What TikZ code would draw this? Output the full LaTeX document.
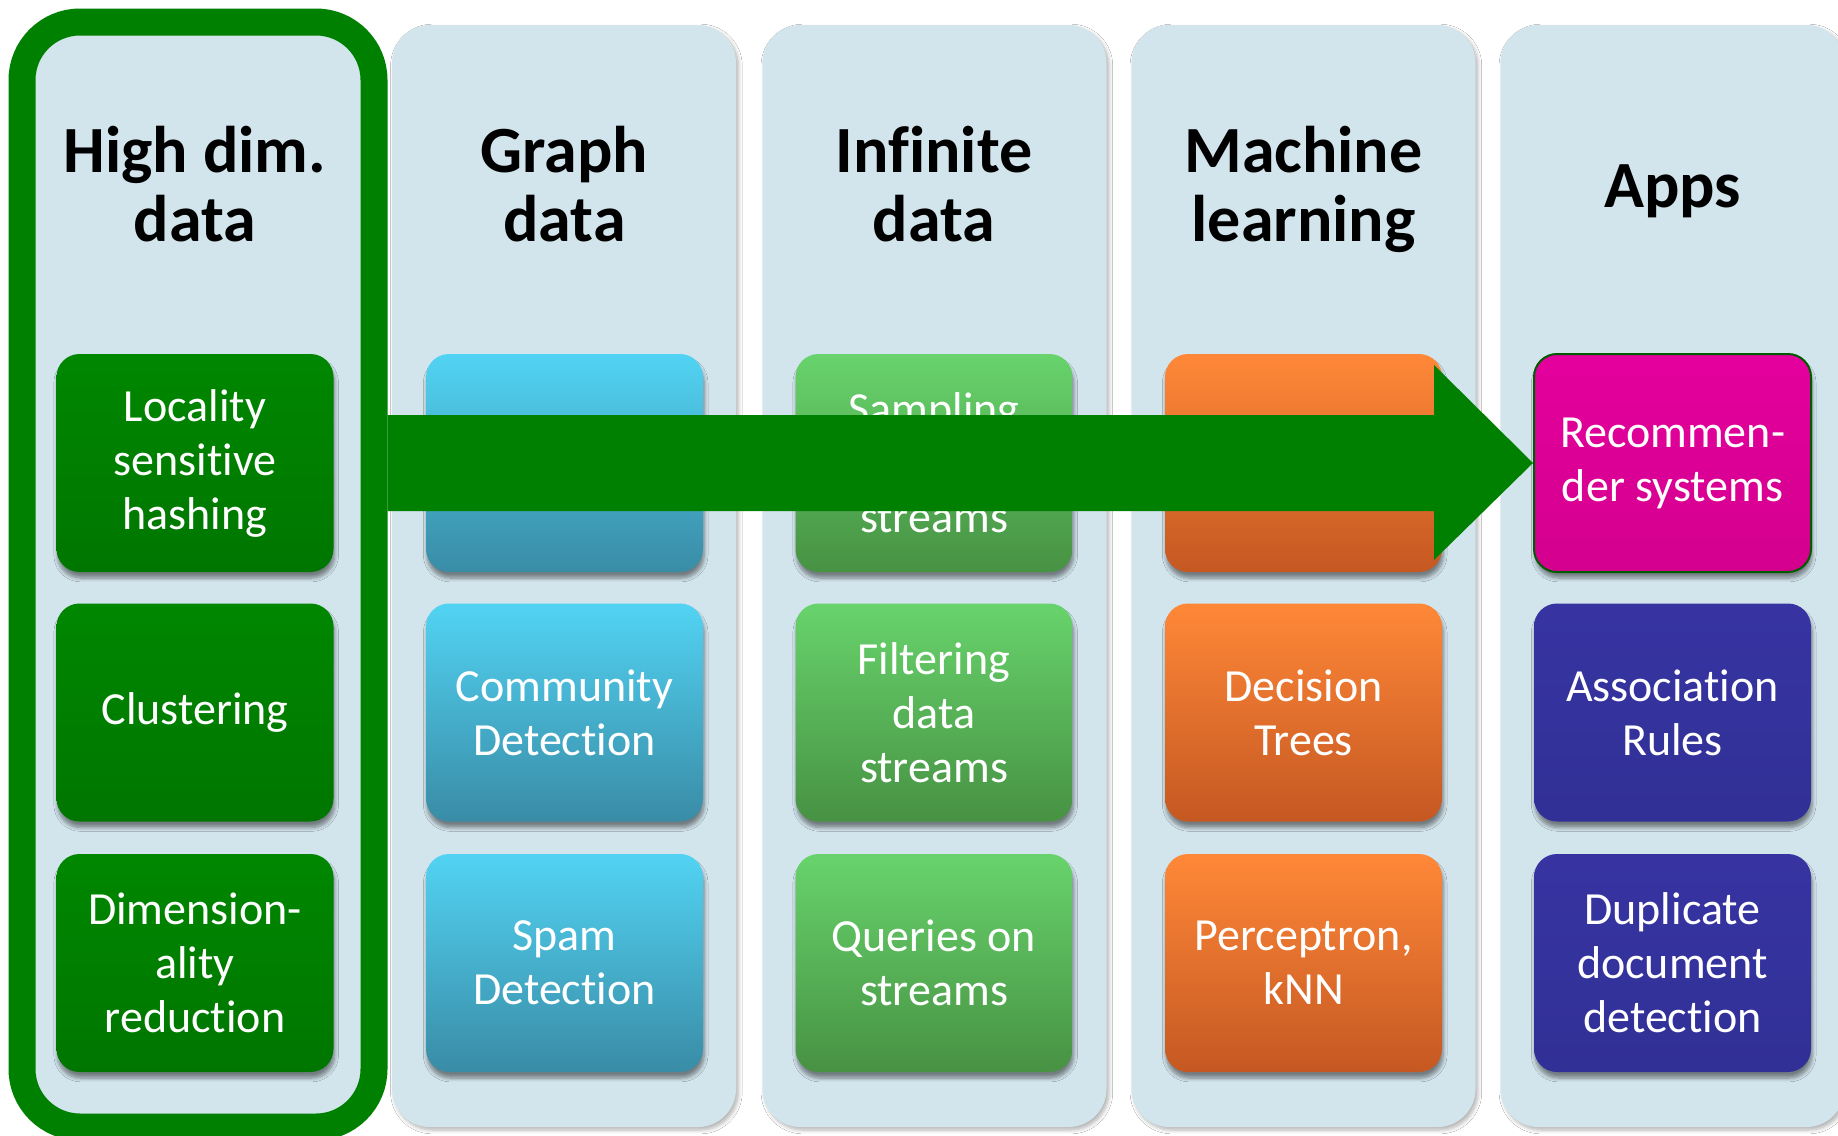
\documentclass[tikz,border=0pt]{standalone}
\usepackage{fontspec}
\setmainfont{Carlito}[Ligatures={NoCommon,NoContextual,NoRequired},Contextuals=NoAlternate]
\usetikzlibrary{shadows.blur,calc}
\definecolor{panelc}{HTML}{D2E4EC}
\definecolor{dgreen}{HTML}{008000}
\definecolor{gTop}{HTML}{008700}
\definecolor{gBot}{HTML}{007600}
\definecolor{cTop}{HTML}{52D3F3}
\definecolor{cBot}{HTML}{398CA6}
\definecolor{lTop}{HTML}{68D36C}
\definecolor{lBot}{HTML}{479243}
\definecolor{oTop}{HTML}{FF8838}
\definecolor{oBot}{HTML}{C55822}
\definecolor{bTop}{HTML}{3734A2}
\definecolor{bBot}{HTML}{313096}
\definecolor{mTop}{HTML}{E4009D}
\definecolor{mBot}{HTML}{D4008E}
\newcommand\boxfont{\fontsize{23}{27}\selectfont}
\newcommand\titlefont{\fontsize{33}{34.5}\selectfont\bfseries}
\tikzset{
  panel/.style={fill=panelc, rounded corners=19pt, inner sep=0pt,
    minimum width=172pt, minimum height=551pt,
    blur shadow={shadow xshift=1.2pt, shadow yshift=-1.5pt, shadow blur steps=6, shadow opacity=30}},
  frame1/.style={draw=dgreen, fill=panelc, line width=13.5pt, rounded corners=29pt,
    inner sep=0pt, minimum width=176pt, minimum height=552.5pt},
  box/.style={rounded corners=11.5pt, minimum width=138.5pt, minimum height=109pt,
    inner sep=0pt, align=center, text=white, font=\boxfont,
    blur shadow={shadow xshift=0.6pt, shadow yshift=-3pt, shadow blur steps=6, shadow opacity=45}},
  gbox/.style={box, top color=gTop, bottom color=gBot},
  cbox/.style={box, top color=cTop, bottom color=cBot},
  lbox/.style={box, top color=lTop, bottom color=lBot},
  obox/.style={box, top color=oTop, bottom color=oBot},
  bbox/.style={box, top color=bTop, bottom color=bBot},
  mbox/.style={box, top color=mTop, bottom color=mBot, draw=dgreen!70!black, line width=1pt},
  title/.style={align=center, font=\titlefont, anchor=base, inner sep=0pt}
}
\begin{document}
\begin{tikzpicture}[x=0.5pt,y=-0.5pt]
\path[use as bounding box] (0,0) rectangle (1838,1136);
\clip (0,0) rectangle (1838,1136);
\fill[white] (0,0) rectangle (1838,1136);
% column panels
\node[frame1] (f1) at (198,574.5) {};
\node[panel] (p2) at (564,576) {};
\node[panel] (p3) at (934.5,576) {};
\node[panel] (p4) at (1303.5,576) {};
\node[panel] (p5) at (1672.5,576) {};
% titles (anchor = baseline of last line)
\node[title] (t1) at (195,241) {High dim.\\data};
\node[title] (t2) at (564.5,241) {Graph\\data};
\node[title] (t3) at (934,241) {Infinite\\data};
\node[title] (t4) at (1303.5,241) {Machine\\learning};
\node[title] (t5) at (1672.5,207) {Apps};
% row 1
\node[gbox] (a1) at (195,463) {Locality\\sensitive\\hashing};
\node[cbox] (b1) at (564.5,463) {};
\node[lbox] (c1) at (934,463) {Sampling\\data\\streams};
\node[obox] (d1) at (1303.5,463) {};
\node[mbox] (rec) at (1672.5,463) {Recommen-\\der systems};
% row 2
\node[gbox] (a2) at (195,712.5) {Clustering};
\node[cbox] (b2) at (564.5,712.5) {Community\\Detection};
\node[lbox] (c2) at (934,712.5) {Filtering\\data\\streams};
\node[obox] (d2) at (1303.5,712.5) {Decision\\Trees};
\node[bbox] (e2) at (1672.5,712.5) {Association\\Rules};
% row 3
\node[gbox] (a3) at (195,963) {Dimension-\\ality\\reduction};
\node[cbox] (b3) at (564.5,963) {Spam\\Detection};
\node[lbox] (c3) at (934,963) {Queries on\\streams};
\node[obox] (d3) at (1303.5,963) {Perceptron,\\kNN};
\node[bbox] (e3) at (1672.5,963) {Duplicate\\document\\detection};
% big arrow
\fill[dgreen] (f1.east |- 0,415) -- (1434,415) -- (1434,365) -- (rec.west)
  -- (1434,560) -- (1434,511) -- (f1.east |- 0,511) -- cycle;
\end{tikzpicture}
\end{document}
